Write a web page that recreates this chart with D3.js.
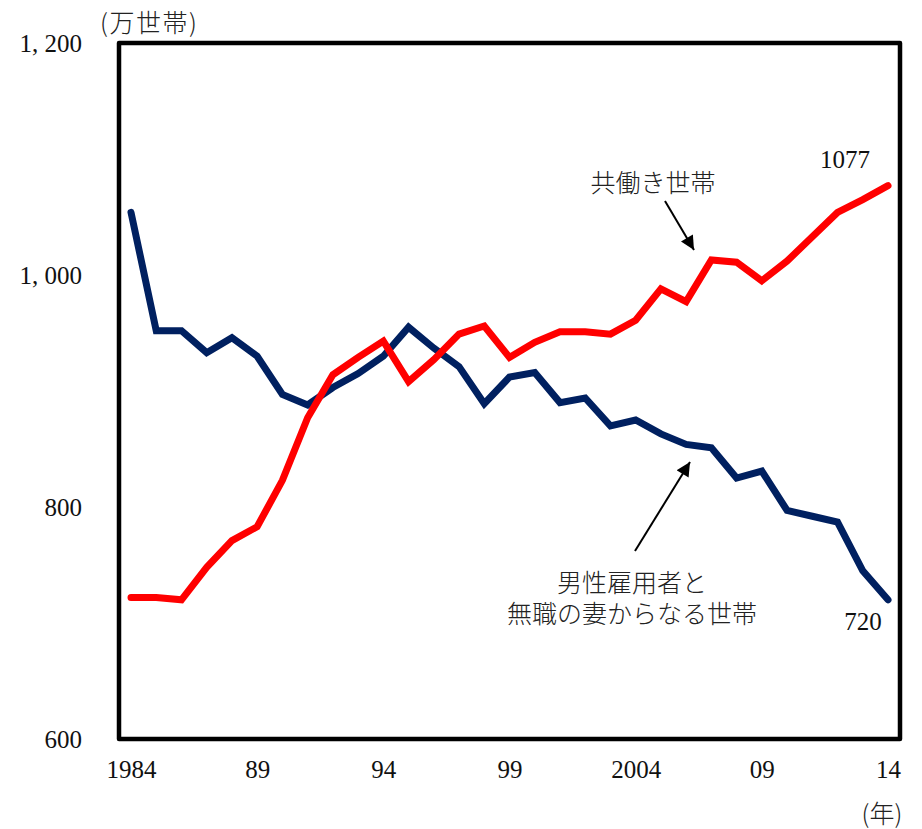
<!DOCTYPE html>
<html><head><meta charset="utf-8">
<script src="https://cdn.jsdelivr.net/npm/d3@7"></script>
<style>
html,body{margin:0;padding:0;background:#fff;}
svg{display:block;}
.num{font-family:"Liberation Serif","DejaVu Serif",serif;font-size:25px;fill:#111;}
.jp{font-family:"Noto Sans CJK JP","Noto Sans",sans-serif;font-size:25px;font-weight:300;fill:#222;}
</style></head>
<body>
<script>
const years = d3.range(1984, 2015);
const dualIncome = [722,722,720,748,771,783,823,877,914,929,943,908,927,949,956,929,942,951,951,949,961,988,977,1013,1011,995,1012,1033,1054,1065,1077];
const singleIncome = [1054,952,952,933,946,930,897,888,903,915,930,955,937,921,889,912,916,890,894,870,875,863,854,851,825,831,797,792,787,745,720];
const yTicks = [600,800,1000,1200];
const yTickLabels = ["600","800","1, 000","1, 200"];
const xTicks = [1984,1989,1994,1999,2004,2009,2014];
const xTickLabels = ["1984","89","94","99","2004","09","14"];
const seriesNames = ["共働き世帯","男性雇用者と\n無職の妻からなる世帯"];
const endLabels = ["1077","720"];

const W=922,H=829;
const svg=d3.select("body").append("svg").attr("width",W).attr("height",H);
const frame={l:119,r:900,t:43,b:739};
const x=d3.scaleLinear().domain([1984,2014]).range([131,888]);
const y=d3.scaleLinear().domain([600,1200]).range([frame.b,frame.t]);

// frame
svg.append("rect").attr("x",frame.l).attr("y",frame.t)
  .attr("width",frame.r-frame.l).attr("height",frame.b-frame.t)
  .attr("fill","none").attr("stroke","#000").attr("stroke-width",4.5).attr("stroke-linejoin","round");

// y axis labels
const yAxis=d3.axisLeft(y).tickValues(yTicks).tickSize(0).tickPadding(0)
  .tickFormat((d,i)=>yTickLabels[i]);
const ga=svg.append("g").attr("transform","translate(82,0)").call(yAxis);
ga.select(".domain").remove();
ga.selectAll("text").attr("class","num").attr("dy","0.33em").attr("font-size",null).attr("font-family",null);

// x axis labels
const xAxis=d3.axisBottom(x).tickValues(xTicks).tickSize(0).tickPadding(0)
  .tickFormat((d,i)=>xTickLabels[i]);
const gx=svg.append("g").attr("transform","translate(0,760)").call(xAxis);
gx.select(".domain").remove();
gx.selectAll("text").attr("class","num").attr("dy","0.72em").attr("font-size",null).attr("font-family",null);

// lines
const line=d3.line().x((d,i)=>x(years[i])).y(d=>y(d));
svg.append("path").datum(singleIncome).attr("d",line).attr("fill","none")
  .attr("stroke","#002060").attr("stroke-width",7).attr("stroke-linecap","round").attr("stroke-linejoin","miter");
svg.append("path").datum(dualIncome).attr("d",line).attr("fill","none")
  .attr("stroke","#FF0000").attr("stroke-width",7).attr("stroke-linecap","round").attr("stroke-linejoin","miter");

// unit labels
svg.append("text").attr("class","jp").attr("x",100).attr("y",32).attr("font-size",26)
  .attr("letter-spacing",1.5).text("(万世帯)");
svg.append("text").attr("class","jp").attr("x",882).attr("y",823).attr("text-anchor","middle").text("(年)");

// end labels
svg.append("text").attr("class","num").attr("x",845).attr("y",168).attr("text-anchor","middle").text(endLabels[0]);
svg.append("text").attr("class","num").attr("x",863).attr("y",630).attr("text-anchor","middle").text(endLabels[1]);

// annotations
svg.append("defs").append("marker").attr("id","ah").attr("viewBox","0 0 10 10")
  .attr("refX",10).attr("refY",5).attr("markerWidth",8).attr("markerHeight",7)
  .attr("markerUnits","strokeWidth").attr("orient","auto")
  .append("path").attr("d","M0,0L10,5L0,10Z").attr("fill","#000");

svg.append("text").attr("class","jp").attr("x",653).attr("y",192).attr("text-anchor","middle")
  .attr("font-size",26).text(seriesNames[0]);
svg.append("line").attr("x1",665).attr("y1",201).attr("x2",694).attr("y2",250)
  .attr("stroke","#000").attr("stroke-width",2).attr("marker-end","url(#ah)");

const t2=svg.append("text").attr("class","jp").attr("y",592).attr("text-anchor","middle").attr("font-size",26);
seriesNames[1].split("\n").forEach((t,i)=>{
  t2.append("tspan").attr("x",632).attr("dy",i===0?0:31).text(t);
});
svg.append("line").attr("x1",635).attr("y1",551).attr("x2",690).attr("y2",462)
  .attr("stroke","#000").attr("stroke-width",2).attr("marker-end","url(#ah)");
</script>
</body></html>
